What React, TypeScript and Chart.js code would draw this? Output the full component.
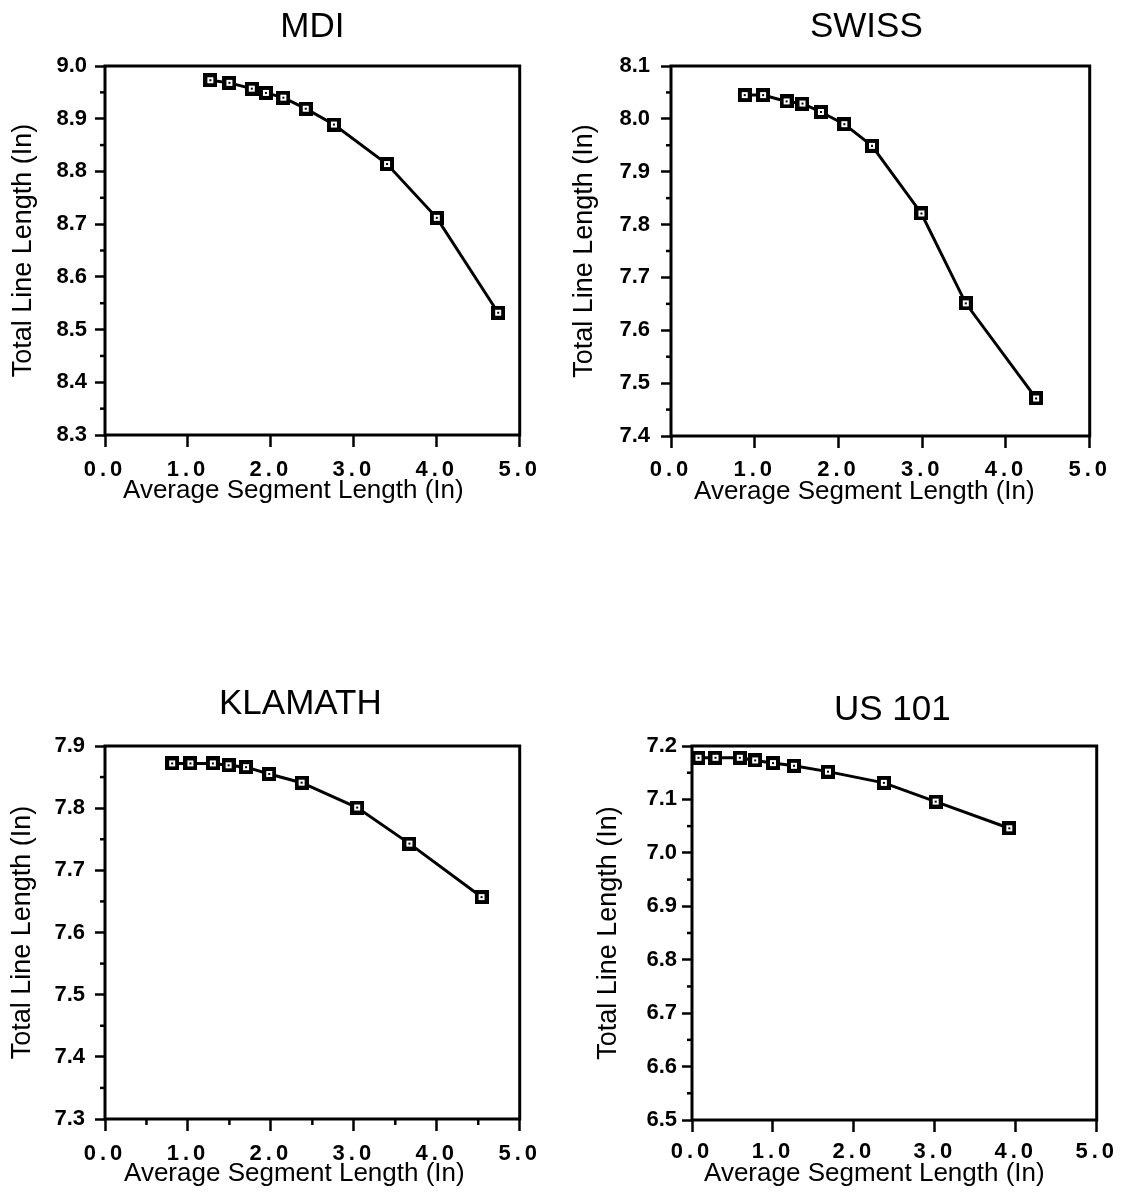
import React, { useEffect, useRef } from "react";
import { Chart, registerables } from "chart.js";

Chart.register(...registerables);

// ---------- data ----------
const xAxisTitle = "Average Segment Length (In)";
const yAxisTitle = "Total Line Length (In)";
const xTicks = [0, 1, 2, 3, 4, 5];

const mdiTitle = "MDI";
const mdiX = [1.27, 1.5, 1.77, 1.94, 2.15, 2.42, 2.76, 3.4, 4.0, 4.74];
const mdiY = [8.973, 8.968, 8.957, 8.949, 8.94, 8.919, 8.889, 8.814, 8.712, 8.532];
const mdiYTicks = [8.3, 8.4, 8.5, 8.6, 8.7, 8.8, 8.9, 9.0];

const swissTitle = "SWISS";
const swissX = [0.88, 1.1, 1.38, 1.57, 1.79, 2.07, 2.4, 2.99, 3.52, 4.36];
const swissY = [8.045, 8.045, 8.033, 8.029, 8.013, 7.99, 7.949, 7.821, 7.651, 7.471];
const swissYTicks = [7.4, 7.5, 7.6, 7.7, 7.8, 7.9, 8.0, 8.1];

const klamathTitle = "KLAMATH";
const klamathX = [0.81, 1.03, 1.3, 1.49, 1.7, 1.98, 2.37, 3.04, 3.67, 4.54];
const klamathY = [7.872, 7.872, 7.872, 7.869, 7.866, 7.855, 7.841, 7.801, 7.743, 7.657];
const klamathYTicks = [7.3, 7.4, 7.5, 7.6, 7.7, 7.8, 7.9];

const usTitle = "US 101";
const usX = [0.08, 0.29, 0.59, 0.78, 1.0, 1.26, 1.68, 2.37, 3.01, 3.92];
const usY = [7.178, 7.178, 7.178, 7.173, 7.168, 7.163, 7.152, 7.131, 7.096, 7.046];
const usYTicks = [6.5, 6.6, 6.7, 6.8, 6.9, 7.0, 7.1, 7.2];

// ---------- layout / style ----------
const FONT = '"Liberation Sans", Arial, Helvetica, sans-serif';
const Y_SCALE_W = 104;
const X_SCALE_H = 75;
const PAD_TOP = 60;
const PAD_RIGHT = 20;

type Panel = {
  title: string;
  xs: number[];
  ys: number[];
  yTicks: number[];
  area: { l: number; t: number; r: number; b: number };
  yTickPad: number;
  xTickPad: number;
  titleDy: number;
  titleDx: number;
  xTitleDy: number;
  xTitleDx: number;
  yTitleDx: number;
  xMinor: boolean;
};

const panels: Panel[] = [
  {
    title: mdiTitle, xs: mdiX, ys: mdiY, yTicks: mdiYTicks,
    area: { l: 105, t: 66, r: 525, b: 435 },
    yTickPad: 8, xTickPad: 10, titleDy: 39, titleDx: 0,
    xTitleDy: 56, xTitleDx: -19, yTitleDx: 81, xMinor: false,
  },
  {
    title: swissTitle, xs: swissX, ys: swissY, yTicks: swissYTicks,
    area: { l: 671, t: 66, r: 1094, b: 436 },
    yTickPad: 11, xTickPad: 9, titleDy: 39, titleDx: -14,
    xTitleDy: 56, xTitleDx: -16, yTitleDx: 86, xMinor: false,
  },
  {
    title: klamathTitle, xs: klamathX, ys: klamathY, yTicks: klamathYTicks,
    area: { l: 105, t: 746, r: 525, b: 1119 },
    yTickPad: 10, xTickPad: 10, titleDy: 42, titleDx: -12,
    xTitleDy: 55, xTitleDx: -18, yTitleDx: 82, xMinor: true,
  },
  {
    title: usTitle, xs: usX, ys: usY, yTicks: usYTicks,
    area: { l: 692, t: 746, r: 1099, b: 1120 },
    yTickPad: 5, xTickPad: 7, titleDy: 36, titleDx: -2,
    xTitleDy: 54, xTitleDx: -20, yTitleDx: 83, xMinor: false,
  },
];

function makeMarker(): HTMLCanvasElement {
  const c = document.createElement("canvas");
  c.width = 14;
  c.height = 14;
  const g = c.getContext("2d")!;
  g.fillStyle = "#000";
  g.fillRect(0, 0, 14, 14);
  g.fillStyle = "#fff";
  g.fillRect(4, 4, 6, 6);
  g.fillStyle = "#000";
  g.fillRect(6, 6, 2, 2);
  return c;
}

function decorPlugin(p: Panel) {
  return {
    id: "decor",
    beforeDatasetsDraw(chart: any) {
      const { ctx, chartArea: a, scales } = chart;
      ctx.save();
      ctx.strokeStyle = "#000";
      ctx.lineWidth = 3;
      ctx.strokeRect(a.left, a.top, a.right - a.left, a.bottom - a.top);
      // minor ticks
      ctx.lineWidth = 2.5;
      const ysc = scales.y;
      for (let i = 0; i < p.yTicks.length - 1; i++) {
        const v = (p.yTicks[i] + p.yTicks[i + 1]) / 2;
        const py = ysc.getPixelForValue(v);
        ctx.beginPath();
        ctx.moveTo(a.left - 5, py);
        ctx.lineTo(a.left, py);
        ctx.stroke();
      }
      if (p.xMinor) {
        const xsc = scales.x;
        for (let i = 0; i < xTicks.length - 1; i++) {
          const v = (xTicks[i] + xTicks[i + 1]) / 2;
          const px = xsc.getPixelForValue(v);
          ctx.beginPath();
          ctx.moveTo(px, a.bottom);
          ctx.lineTo(px, a.bottom + 6);
          ctx.stroke();
        }
      }
      // texts
      ctx.fillStyle = "#000";
      ctx.textAlign = "center";
      ctx.textBaseline = "middle";
      ctx.font = `35px ${FONT}`;
      ctx.fillText(p.title, (a.left + a.right) / 2 + p.titleDx, a.top - p.titleDy);
      ctx.font = `26px ${FONT}`;
      ctx.fillText(xAxisTitle, (a.left + a.right) / 2 + p.xTitleDx, a.bottom + p.xTitleDy);
      ctx.save();
      ctx.translate(a.left - p.yTitleDx, (a.top + a.bottom) / 2);
      ctx.rotate(-Math.PI / 2);
      ctx.font = `27px ${FONT}`;
      ctx.fillText(yAxisTitle, 0, 0);
      ctx.restore();
      ctx.restore();
      // x tick labels (drawn after datasets) are letter-spaced
      (ctx as any).letterSpacing = "4px";
    },
    afterDraw(chart: any) {
      (chart.ctx as any).letterSpacing = "0px";
    },
  };
}

function PanelChart({ p }: { p: Panel }) {
  const ref = useRef<HTMLCanvasElement | null>(null);
  const canvasLeft = p.area.l - Y_SCALE_W;
  const canvasTop = p.area.t - PAD_TOP;
  const width = p.area.r + PAD_RIGHT - canvasLeft;
  const height = p.area.b + X_SCALE_H - canvasTop;

  useEffect(() => {
    if (!ref.current) return;
    const marker = makeMarker();
    const tickFont = { family: FONT, size: 22, weight: "bold" as const };
    const chart = new Chart(ref.current, {
      type: "scatter",
      data: {
        datasets: [
          {
            data: p.xs.map((x, i) => ({ x, y: p.ys[i] })),
            showLine: true,
            borderColor: "#000",
            borderWidth: 3,
            backgroundColor: "#fff",
            pointStyle: marker as any,
            pointRadius: 7,
            tension: 0,
            clip: false as any,
          },
        ],
      },
      options: {
        responsive: false,
        animation: false,
        events: [],
        layout: { padding: { top: PAD_TOP, right: PAD_RIGHT, left: 0, bottom: 0 } },
        plugins: {
          legend: { display: false },
          tooltip: { enabled: false },
          title: { display: false },
        },
        scales: {
          x: {
            type: "linear",
            min: xTicks[0],
            max: xTicks[xTicks.length - 1],
            afterBuildTicks: (s: any) => {
              s.ticks = xTicks.map((v) => ({ value: v }));
            },
            afterFit: (s: any) => {
              s.height = X_SCALE_H;
            },
            ticks: {
              callback: (v: any) => Number(v).toFixed(1),
              font: tickFont,
              color: "#000",
              padding: p.xTickPad,
              maxRotation: 0,
              autoSkip: false,
              z: 1,
            },
            grid: {
              drawOnChartArea: false,
              drawTicks: true,
              tickLength: 12,
              tickWidth: 2.5,
              tickColor: "#000",
            },
            border: { display: false },
          },
          y: {
            type: "linear",
            min: p.yTicks[0],
            max: p.yTicks[p.yTicks.length - 1],
            afterBuildTicks: (s: any) => {
              s.ticks = p.yTicks.map((v) => ({ value: v }));
            },
            afterFit: (s: any) => {
              s.width = Y_SCALE_W;
            },
            ticks: {
              callback: (v: any) => Number(v).toFixed(1),
              font: tickFont,
              color: "#000",
              padding: p.yTickPad,
              autoSkip: false,
            },
            grid: {
              drawOnChartArea: false,
              drawTicks: true,
              tickLength: 10,
              tickWidth: 2.5,
              tickColor: "#000",
            },
            border: { display: false },
          },
        },
      },
      plugins: [decorPlugin(p)],
    });
    return () => chart.destroy();
  }, [p]);

  return (
    <canvas
      ref={ref}
      width={width}
      height={height}
      style={{
        position: "absolute",
        left: canvasLeft,
        top: canvasTop,
        width,
        height,
        display: "block",
      }}
    />
  );
}

export default function App() {
  return (
    <div
      style={{
        position: "absolute",
        left: 0,
        top: 0,
        width: 1122,
        height: 1198,
        background: "#fff",
        overflow: "hidden",
      }}
    >
      {panels.map((p) => (
        <PanelChart key={p.title} p={p} />
      ))}
    </div>
  );
}
